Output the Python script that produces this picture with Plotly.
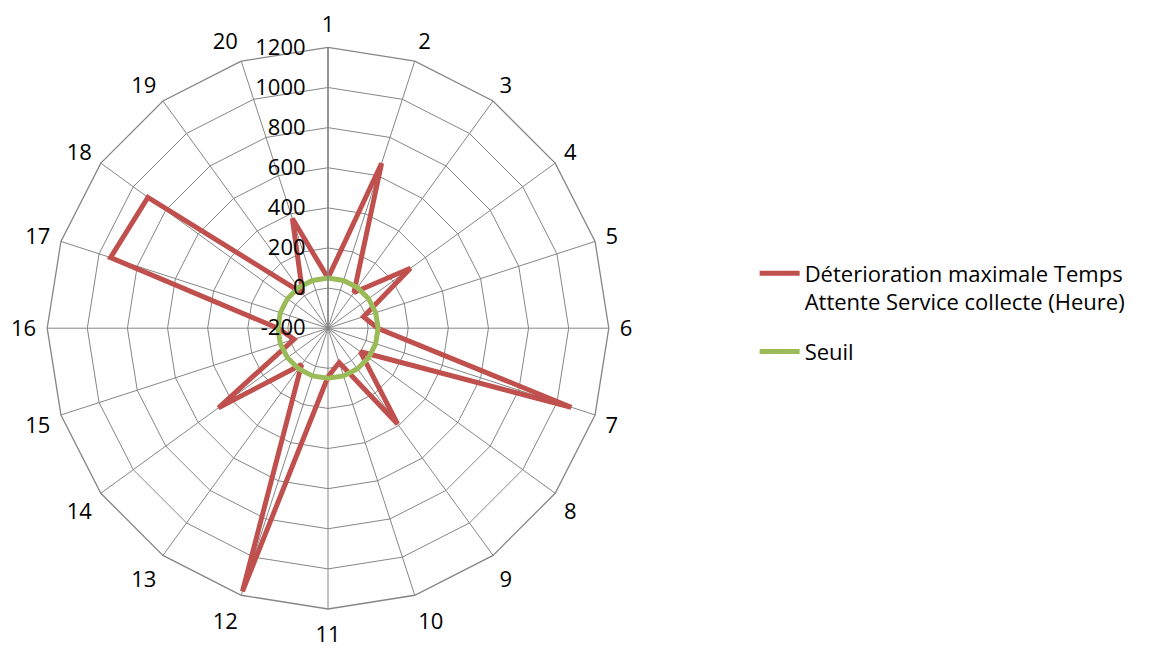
import plotly.graph_objects as go

categories = [str(i) for i in range(1, 21)]
deterioration = [50, 665, 20, 308, -14, 48, 1075, 0, 390, -20,
                 42, 1180, 24, 475, -22, 50, 940, 910, 15, 375]
seuil = [50] * 20
radial_ticks = [-200, 0, 200, 400, 600, 800, 1000, 1200]

name_red = "Déterioration maximale Temps<br>Attente Service collecte (Heure)"
name_green = "Seuil"

def closed(v):
    return list(v) + [v[0]]

fig = go.Figure()
fig.add_trace(go.Scatterpolar(
    r=closed(deterioration), theta=closed(categories), mode="lines",
    name=name_red, legendgroup="g1",
    line=dict(color="#C0504D", width=5)))
fig.add_trace(go.Scatterpolar(
    r=closed(seuil), theta=closed(categories), mode="lines",
    name=name_green, legendgroup="g2",
    line=dict(color="#9BBB59", width=5)))

W, H = 1163, 652
cx, cy, R = 320, 320.2, 280.8
fig.update_layout(
    width=W, height=H,
    margin=dict(l=0, r=0, t=0, b=0, autoexpand=False),
    paper_bgcolor="white",
    font=dict(family="Open Sans", size=22, color="black"),
    polar=dict(
        domain=dict(x=[(cx - R) / W, (cx + R) / W],
                    y=[(H - cy - R) / H, (H - cy + R) / H]),
        bgcolor="white",
        gridshape="linear",
        radialaxis=dict(
            range=[-200, 1200], tickvals=radial_ticks,
            ticktext=[str(v) for v in radial_ticks],
            angle=90, tickangle=90, side="counterclockwise",
            showline=True, linecolor="#868686", linewidth=1.5,
            gridcolor="#868686", gridwidth=1.3,
            ticks="outside", ticklen=14, tickcolor="rgba(0,0,0,0)",
            tickfont=dict(size=22, family="Open Sans"),
        ),
        angularaxis=dict(
            direction="clockwise", rotation=90,
            categoryorder="array", categoryarray=categories,
            showline=True, linecolor="#868686", linewidth=1.3,
            gridcolor="#868686", gridwidth=1.3,
            ticks="outside", ticklen=6, tickcolor="rgba(0,0,0,0)",
            tickfont=dict(size=22, family="Open Sans"),
        ),
    ),
    legend=dict(x=0.642, y=0.625, xanchor="left", yanchor="top",
                valign="top", font=dict(size=22, family="Open Sans"),
                itemwidth=40, traceorder="grouped", tracegroupgap=18),
    showlegend=True,
)

fig.write_html("out.html")
